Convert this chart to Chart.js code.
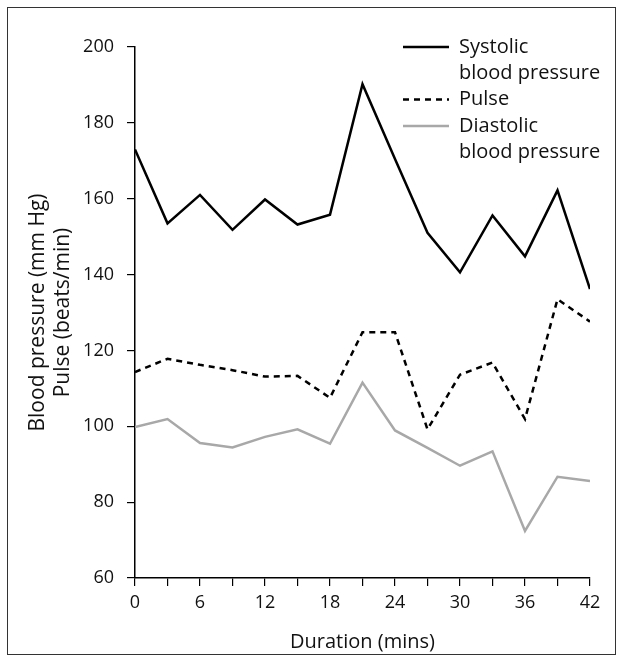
<!DOCTYPE html>
<html>
<head>
<meta charset="utf-8">
<script src="https://cdn.jsdelivr.net/npm/chart.js@4"></script>
<style>
  html, body { margin: 0; padding: 0; background: #fff; }
</style>
</head>
<body>
<canvas id="myChart" width="623" height="662"></canvas>
<script>
const minutes = [0, 3, 6, 9, 12, 15, 18, 21, 24, 27, 30, 33, 36, 39, 42]
const systolic = [173, 153.5, 161, 151.8, 159.8, 153.2, 155.8, 190.2, 170.5, 151, 140.6, 155.6, 144.8, 162.2, 136.2]
const pulse = [114.3, 117.8, 116.2, 114.8, 113.1, 113.3, 107.5, 124.8, 124.8, 99.2, 113.6, 116.8, 101.9, 133.5, 127.6]
const diastolic = [99.8, 101.9, 95.6, 94.4, 97.2, 99.2, 95.4, 111.5, 98.9, 94.3, 89.6, 93.4, 72.4, 86.7, 85.6]
const legendLabels = [['Systolic', 'blood pressure'], ['Pulse'], ['Diastolic', 'blood pressure']]
const yTitle = ['Blood pressure (mm Hg)', 'Pulse (beats/min)']
const xTitle = 'Duration (mins)'

const FONT = "'Open Sans', 'DejaVu Sans', sans-serif"
Chart.defaults.font.family = FONT
Chart.defaults.color = '#111'

const toPts = vals => vals.map((v, i) => ({ x: minutes[i], y: v }))

// frame round the whole picture
const framePlugin = {
    id: 'frame',
    beforeDraw(chart) {
        const c = chart.ctx
        c.save()
        c.fillStyle = '#fff'
        c.fillRect(0, 0, chart.width, chart.height)
        c.strokeStyle = '#333'
        c.lineWidth = 1
        c.strokeRect(7.5, 7.5, chart.width - 15, chart.height - 15)
        c.restore()
    }
}

// legend with two-line labels, top right inside the plot
const legendPlugin = {
    id: 'bpLegend',
    afterDraw(chart) {
        const c = chart.ctx
        const area = chart.chartArea
        const lineX0 = area.right - 187
        const lineX1 = area.right - 141
        const textX = area.right - 131
        let y = area.top
        c.save()
        c.font = '20px ' + FONT
        c.textBaseline = 'middle'
        c.fillStyle = '#111'
        chart.data.datasets.forEach((ds, i) => {
            c.beginPath()
            c.strokeStyle = ds.borderColor
            c.lineWidth = ds.borderWidth
            c.setLineDash(ds.borderDash || [])
            c.moveTo(lineX0, y)
            c.lineTo(lineX1, y)
            c.stroke()
            c.setLineDash([])
            legendLabels[i].forEach(t => {
                c.fillText(t, textX, y)
                y += 26.3
            })
        })
        c.restore()
    }
}

const ctx = document.getElementById('myChart').getContext('2d')
new Chart(ctx, {
    type: 'line',
    data: {
        datasets: [{
            label: 'Systolic blood pressure',
            data: toPts(systolic),
            borderColor: '#000',
            borderWidth: 2.5,
            pointRadius: 0,
            tension: 0
        }, {
            label: 'Pulse',
            data: toPts(pulse),
            borderColor: '#000',
            borderWidth: 2.5,
            borderDash: [6, 5],
            pointRadius: 0,
            tension: 0
        }, {
            label: 'Diastolic blood pressure',
            data: toPts(diastolic),
            borderColor: '#a8a8a8',
            borderWidth: 2.5,
            pointRadius: 0,
            tension: 0
        }]
    },
    options: {
        responsive: false,
        animation: false,
        layout: { padding: { top: 47, right: 33, left: 0, bottom: 0 } },
        plugins: {
            legend: { display: false },
            tooltip: { enabled: false }
        },
        scales: {
            x: {
                type: 'linear',
                min: 0,
                max: 42,
                afterFit: s => { s.height = 84 },
                ticks: {
                    stepSize: 3,
                    autoSkip: false,
                    maxRotation: 0,
                    padding: 6,
                    font: { size: 18 },
                    callback: v => (v % 6 === 0 ? v : '')
                },
                grid: {
                    drawOnChartArea: false,
                    drawTicks: true,
                    tickLength: 8,
                    color: '#000',
                    lineWidth: 1.2
                },
                border: { color: '#000', width: 1.5 },
                title: {
                    display: true,
                    text: xTitle,
                    font: { size: 20 },
                    padding: { top: 0, bottom: 8 }
                }
            },
            y: {
                min: 60,
                max: 200,
                afterFit: s => { s.width = 135 },
                ticks: {
                    stepSize: 20,
                    padding: 13,
                    font: { size: 18 }
                },
                grid: {
                    drawOnChartArea: false,
                    drawTicks: true,
                    tickLength: 8,
                    color: '#000',
                    lineWidth: 1.2
                },
                border: { color: '#000', width: 1.5 },
                title: {
                    display: true,
                    text: yTitle,
                    font: { size: 21, lineHeight: 1.2 },
                    padding: { top: 25, bottom: 0 }
                }
            }
        }
    },
    plugins: [framePlugin, legendPlugin]
})
</script>
</body>
</html>
